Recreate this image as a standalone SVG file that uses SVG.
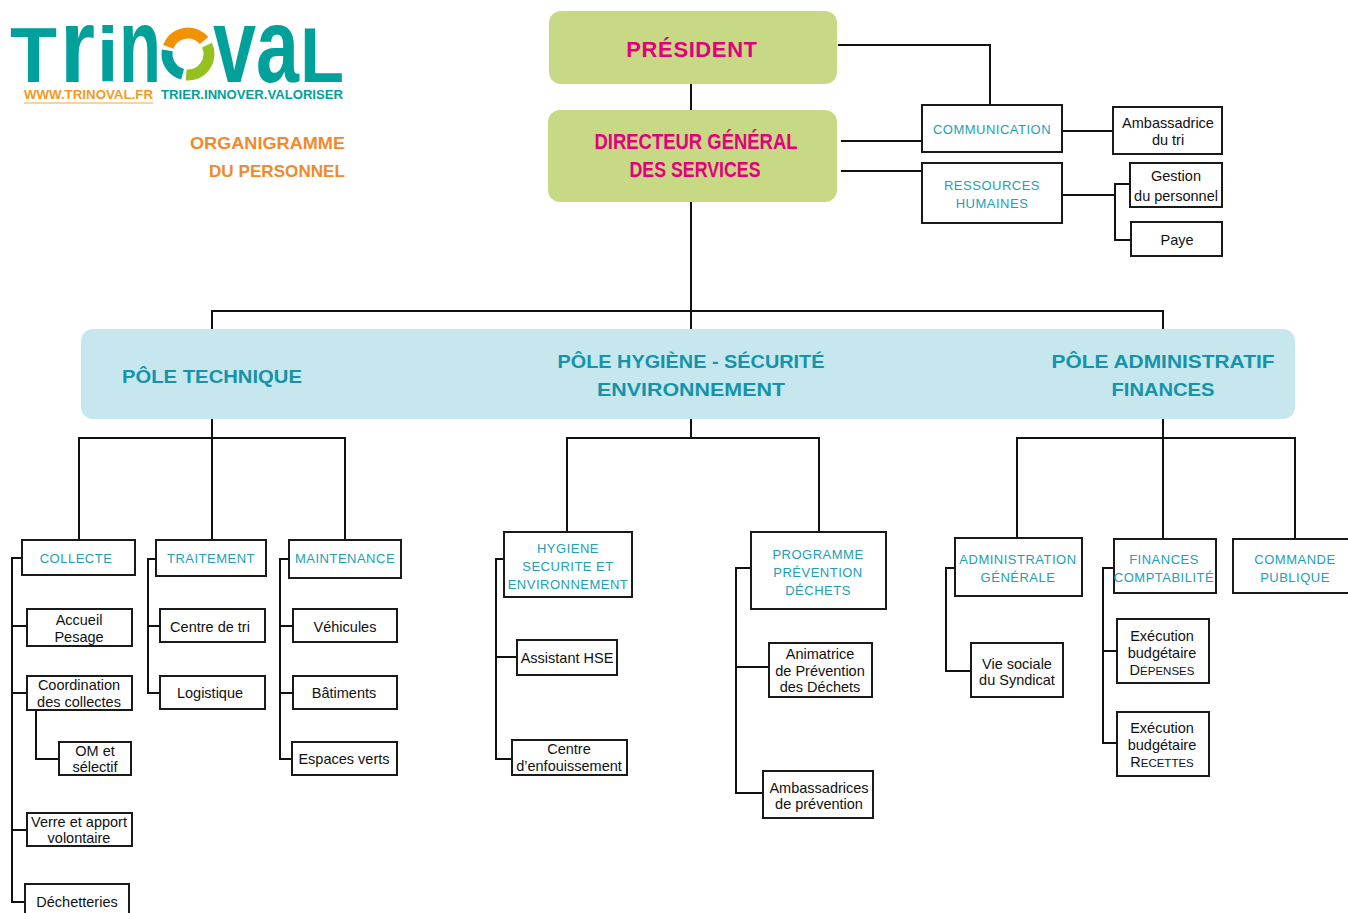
<svg xmlns="http://www.w3.org/2000/svg" width="1348" height="913" viewBox="0 0 1348 913">
<style>
.box{fill:#fff;stroke:#1a1a1a;stroke-width:2}
.lbl{font-family:"Liberation Sans",Arial,sans-serif;font-size:14.5px;fill:#111;text-anchor:middle}
.svc{font-family:"Liberation Sans",Arial,sans-serif;font-size:13px;fill:#21a0b5;text-anchor:middle;letter-spacing:0.5px}
.pole{font-family:"Liberation Sans",Arial,sans-serif;font-weight:bold;font-size:19px;fill:#1693a9;text-anchor:middle}
.head{font-family:"Liberation Sans",Arial,sans-serif;font-weight:bold;font-size:22px;fill:#e3007b;text-anchor:middle}
.conn{fill:none;stroke:#111;stroke-width:2}
.logo{font-family:"Liberation Sans",Arial,sans-serif;font-weight:bold;fill:#00a19a}
</style>
<rect width="1348" height="913" fill="#fff"/>

<g id="logo">
  <text class="logo" x="10" y="82" font-size="77">T</text>
  <text class="logo" transform="translate(60,82) scale(1,1.38)" font-size="77" textLength="35" lengthAdjust="spacingAndGlyphs">r</text>
  <text class="logo" x="97" y="82" font-size="77">i</text>
  <text class="logo" transform="translate(119,82) scale(1,1.38)" font-size="77" textLength="42" lengthAdjust="spacingAndGlyphs">n</text>
  <path d="M168.3 46.8 A21 21 0 0 1 204.1 40.5" fill="none" stroke="#f39200" stroke-width="11"/>
  <path d="M207 45.1 A21 21 0 0 1 186.2 74.9" fill="none" stroke="#95c11f" stroke-width="11"/>
  <path d="M182.6 74.3 A21 21 0 0 1 167.3 50.4" fill="none" stroke="#00a19a" stroke-width="11"/>
  <text class="logo" transform="translate(213,82) scale(1,1.38)" font-size="77" textLength="86" lengthAdjust="spacingAndGlyphs">va</text>
  <text class="logo" x="300" y="82" font-size="77" textLength="44" lengthAdjust="spacingAndGlyphs">L</text>
  <text x="24" y="99" font-family="Liberation Sans, Arial, sans-serif" font-weight="bold" font-size="13" fill="#f39a1e" textLength="129" lengthAdjust="spacingAndGlyphs">WWW.TRINOVAL.FR</text>
  <line x1="24" y1="103" x2="153" y2="103" stroke="#f9c47a" stroke-width="1.5"/>
  <text x="161" y="99" font-family="Liberation Sans, Arial, sans-serif" font-weight="bold" font-size="13" fill="#00a19a" textLength="182" lengthAdjust="spacingAndGlyphs">TRIER.INNOVER.VALORISER</text>
</g>

<g id="title" font-family="Liberation Sans, Arial, sans-serif" font-weight="bold" font-size="17" fill="#f08a2c" text-anchor="end">
  <text x="345" y="149" textLength="155" lengthAdjust="spacingAndGlyphs">ORGANIGRAMME</text>
  <text x="345" y="177" textLength="136" lengthAdjust="spacingAndGlyphs">DU PERSONNEL</text>
</g>

<g id="connectors" class="conn">
  <path d="M691 84 V110"/>
  <path d="M838 45 H990 V105"/>
  <path d="M841 141 H922"/>
  <path d="M841 171 H922"/>
  <path d="M1062 131 H1113"/>
  <path d="M1062 195 H1115"/>
  <path d="M1131 184 H1115 V240 H1131"/>
  <path d="M691 202 V329"/>
  <path d="M212 329 V311 H1163 V329"/>
  <path d="M212 419 V540"/>
  <path d="M79 540 V438 H345 V540"/>
  <path d="M691 419 V438"/>
  <path d="M567 532 V438 H819 V532"/>
  <path d="M1163 419 V539"/>
  <path d="M1017 538 V438 H1295 V539"/>
  <path d="M22 558 H12 V902 H25"/>
  <path d="M12 626 H27"/>
  <path d="M12 693 H27"/>
  <path d="M12 830 H27"/>
  <path d="M36 710 V759 H59"/>
  <path d="M156 559 H148 V693 H160"/>
  <path d="M148 626 H160"/>
  <path d="M289 559 H280 V759 H292"/>
  <path d="M280 626 H293"/>
  <path d="M280 693 H293"/>
  <path d="M504 559 H496 V759 H512"/>
  <path d="M496 657 H517"/>
  <path d="M751 568 H736 V793 H763"/>
  <path d="M736 667 H769"/>
  <path d="M955 568 H946 V671 H971"/>
  <path d="M1114 568 H1103 V743 H1117"/>
  <path d="M1103 651 H1117"/>
</g>

<g id="president">
  <rect x="549" y="11" width="288" height="73" rx="12" fill="#c8d986"/>
  <text class="head" x="692" y="57" letter-spacing="0.6">PRÉSIDENT</text>
</g>
<g id="dgs">
  <rect x="548" y="110" width="289" height="92" rx="12" fill="#c8d986"/>
  <text class="head" x="696" y="149" textLength="203" lengthAdjust="spacingAndGlyphs">DIRECTEUR GÉNÉRAL</text>
  <text class="head" x="695" y="177" textLength="131" lengthAdjust="spacingAndGlyphs">DES SERVICES</text>
</g>

<g id="communication">
  <rect class="box" x="922" y="105" width="140" height="47"/>
  <text class="svc" x="992" y="134">COMMUNICATION</text>
</g>
<g id="ambassadrice-tri">
  <rect class="box" x="1113" y="107" width="109" height="47"/>
  <text class="lbl" x="1168" y="128">Ambassadrice</text>
  <text class="lbl" x="1168" y="145">du tri</text>
</g>
<g id="rh">
  <rect class="box" x="922" y="163" width="140" height="60"/>
  <text class="svc" x="992" y="190">RESSOURCES</text>
  <text class="svc" x="992" y="208">HUMAINES</text>
</g>
<g id="gestion-personnel">
  <rect class="box" x="1130" y="163" width="92" height="44"/>
  <text class="lbl" x="1176" y="181">Gestion</text>
  <text class="lbl" x="1176" y="201">du personnel</text>
</g>
<g id="paye">
  <rect class="box" x="1131" y="222" width="91" height="34"/>
  <text class="lbl" x="1177" y="245">Paye</text>
</g>

<g id="poles">
  <rect x="81" y="329" width="1214" height="90" rx="12" fill="#c6e7ee"/>
  <text class="pole" x="212" y="383" textLength="180" lengthAdjust="spacingAndGlyphs">PÔLE TECHNIQUE</text>
  <text class="pole" x="691" y="368" textLength="267" lengthAdjust="spacingAndGlyphs">PÔLE HYGIÈNE - SÉCURITÉ</text>
  <text class="pole" x="691" y="396" textLength="188" lengthAdjust="spacingAndGlyphs">ENVIRONNEMENT</text>
  <text class="pole" x="1163" y="368" textLength="223" lengthAdjust="spacingAndGlyphs">PÔLE ADMINISTRATIF</text>
  <text class="pole" x="1163" y="396" textLength="103" lengthAdjust="spacingAndGlyphs">FINANCES</text>
</g>

<g id="collecte">
  <rect class="box" x="22" y="540" width="113" height="35"/>
  <text class="svc" x="76" y="563">COLLECTE</text>
</g>
<g id="accueil-pesage">
  <rect class="box" x="27" y="609" width="105" height="37"/>
  <text class="lbl" x="79" y="625">Accueil</text>
  <text class="lbl" x="79" y="642">Pesage</text>
</g>
<g id="coordination">
  <rect class="box" x="27" y="676" width="105" height="34"/>
  <text class="lbl" x="79" y="690">Coordination</text>
  <text class="lbl" x="79" y="707">des collectes</text>
</g>
<g id="om-selectif">
  <rect class="box" x="59" y="742" width="72" height="33"/>
  <text class="lbl" x="95" y="756">OM et</text>
  <text class="lbl" x="95" y="772">sélectif</text>
</g>
<g id="verre">
  <rect class="box" x="27" y="813" width="105" height="33"/>
  <text class="lbl" x="79" y="827">Verre et apport</text>
  <text class="lbl" x="79" y="843">volontaire</text>
</g>
<g id="dechetteries">
  <rect class="box" x="25" y="884" width="104" height="40"/>
  <text class="lbl" x="77" y="907">Déchetteries</text>
</g>

<g id="traitement">
  <rect class="box" x="156" y="540" width="110" height="36"/>
  <text class="svc" x="211" y="563">TRAITEMENT</text>
</g>
<g id="centre-tri">
  <rect class="box" x="160" y="609" width="105" height="33"/>
  <text class="lbl" x="210" y="632">Centre de tri</text>
</g>
<g id="logistique">
  <rect class="box" x="160" y="676" width="105" height="33"/>
  <text class="lbl" x="210" y="698">Logistique</text>
</g>

<g id="maintenance">
  <rect class="box" x="289" y="540" width="112" height="38"/>
  <text class="svc" x="345" y="563">MAINTENANCE</text>
</g>
<g id="vehicules">
  <rect class="box" x="293" y="609" width="104" height="33"/>
  <text class="lbl" x="345" y="632">Véhicules</text>
</g>
<g id="batiments">
  <rect class="box" x="293" y="676" width="104" height="33"/>
  <text class="lbl" x="344" y="698">Bâtiments</text>
</g>
<g id="espaces-verts">
  <rect class="box" x="292" y="742" width="105" height="33"/>
  <text class="lbl" x="344" y="764">Espaces verts</text>
</g>

<g id="hse">
  <rect class="box" x="504" y="532" width="128" height="65"/>
  <text class="svc" x="568" y="553" letter-spacing="0.2">HYGIENE</text>
  <text class="svc" x="568" y="571" letter-spacing="0.2">SECURITE ET</text>
  <text class="svc" x="568" y="589" letter-spacing="0.2">ENVIRONNEMENT</text>
</g>
<g id="assistant-hse">
  <rect class="box" x="517" y="640" width="100" height="35"/>
  <text class="lbl" x="567" y="663">Assistant HSE</text>
</g>
<g id="centre-enfouissement">
  <rect class="box" x="512" y="740" width="115" height="35"/>
  <text class="lbl" x="569" y="754">Centre</text>
  <text class="lbl" x="569" y="771">d’enfouissement</text>
</g>

<g id="programme-prevention">
  <rect class="box" x="751" y="532" width="135" height="77"/>
  <text class="svc" x="818" y="559">PROGRAMME</text>
  <text class="svc" x="818" y="577">PRÉVENTION</text>
  <text class="svc" x="818" y="595">DÉCHETS</text>
</g>
<g id="animatrice">
  <rect class="box" x="769" y="643" width="103" height="54"/>
  <text class="lbl" x="820" y="659">Animatrice</text>
  <text class="lbl" x="820" y="676">de Prévention</text>
  <text class="lbl" x="820" y="692">des Déchets</text>
</g>
<g id="ambassadrices-prevention">
  <rect class="box" x="763" y="771" width="110" height="47"/>
  <text class="lbl" x="819" y="793">Ambassadrices</text>
  <text class="lbl" x="819" y="809">de prévention</text>
</g>

<g id="administration-generale">
  <rect class="box" x="955" y="538" width="127" height="58"/>
  <text class="svc" x="1018" y="564">ADMINISTRATION</text>
  <text class="svc" x="1018" y="582">GÉNÉRALE</text>
</g>
<g id="vie-sociale">
  <rect class="box" x="971" y="643" width="92" height="54"/>
  <text class="lbl" x="1017" y="669">Vie sociale</text>
  <text class="lbl" x="1017" y="685">du Syndicat</text>
</g>

<g id="finances-comptabilite">
  <rect class="box" x="1114" y="539" width="102" height="54"/>
  <text class="svc" x="1164" y="564" letter-spacing="0.2">FINANCES</text>
  <text class="svc" x="1164" y="582" letter-spacing="0.2">COMPTABILITÉ</text>
</g>
<g id="execution-depenses">
  <rect class="box" x="1117" y="619" width="92" height="64"/>
  <text class="lbl" x="1162" y="641">Exécution</text>
  <text class="lbl" x="1162" y="658">budgétaire</text>
  <text class="lbl" x="1162" y="675">D<tspan font-size="11.5">ÉPENSES</tspan></text>
</g>
<g id="execution-recettes">
  <rect class="box" x="1117" y="712" width="92" height="64"/>
  <text class="lbl" x="1162" y="733">Exécution</text>
  <text class="lbl" x="1162" y="750">budgétaire</text>
  <text class="lbl" x="1162" y="767">R<tspan font-size="11.5">ECETTES</tspan></text>
</g>

<g id="commande-publique">
  <rect class="box" x="1233" y="539" width="120" height="54"/>
  <text class="svc" x="1295" y="564">COMMANDE</text>
  <text class="svc" x="1295" y="582">PUBLIQUE</text>
</g>
</svg>
